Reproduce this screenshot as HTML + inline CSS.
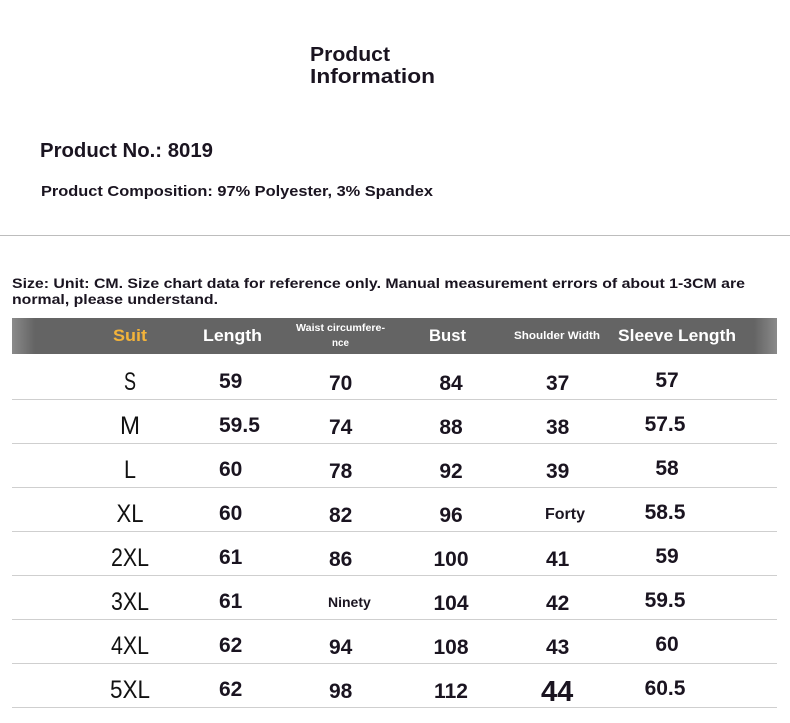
<!DOCTYPE html>
<html><head><meta charset="utf-8"><style>
html,body{margin:0;padding:0;background:#fff;width:790px;height:723px;overflow:hidden}
text{font-family:"Liberation Sans",sans-serif;font-weight:bold;fill:#1a1420}
.sz{font-weight:normal;fill:#111;font-size:25px}
.n{font-size:21px}
</style></head><body>
<svg width="790" height="723" viewBox="0 0 790 723" xmlns="http://www.w3.org/2000/svg">
<defs>
<linearGradient id="hg" x1="0" x2="1" y1="0" y2="0">
<stop offset="0" stop-color="#8a8a8a"/><stop offset="0.03" stop-color="#646464"/>
<stop offset="0.97" stop-color="#646464"/><stop offset="1" stop-color="#8a8a8a"/>
</linearGradient>
</defs>
<text x="310" y="61" font-size="20" textLength="80" lengthAdjust="spacingAndGlyphs">Product</text>
<text x="310" y="83" font-size="20" textLength="125" lengthAdjust="spacingAndGlyphs">Information</text>
<text x="40" y="157" font-size="20" textLength="173" lengthAdjust="spacingAndGlyphs">Product No.: 8019</text>
<text x="41" y="196" font-size="15" textLength="392" lengthAdjust="spacingAndGlyphs">Product Composition: 97% Polyester, 3% Spandex</text>
<rect x="0" y="235" width="790" height="1" fill="#bdbdbd"/>
<text x="12" y="288" font-size="14" textLength="733" lengthAdjust="spacingAndGlyphs">Size: Unit: CM. Size chart data for reference only. Manual measurement errors of about 1-3CM are</text>
<text x="12" y="304" font-size="14" textLength="206" lengthAdjust="spacingAndGlyphs">normal, please understand.</text>
<rect x="12" y="318" width="765" height="36" fill="url(#hg)"/>
<g style="fill:#fff">
<text x="113" y="341" font-size="17" textLength="34" lengthAdjust="spacingAndGlyphs" style="fill:#f3b33a">Suit</text>
<text x="203" y="341" font-size="17" textLength="59" lengthAdjust="spacingAndGlyphs" style="fill:#fff">Length</text>
<text x="296" y="331" font-size="10" textLength="89" lengthAdjust="spacingAndGlyphs" style="fill:#fff">Waist circumfere-</text>
<text x="332" y="346" font-size="10" textLength="17" lengthAdjust="spacingAndGlyphs" style="fill:#fff">nce</text>
<text x="429" y="341" font-size="17" textLength="37" lengthAdjust="spacingAndGlyphs" style="fill:#fff">Bust</text>
<text x="514" y="339" font-size="11" textLength="86" lengthAdjust="spacingAndGlyphs" style="fill:#fff">Shoulder Width</text>
<text x="618" y="341" font-size="17" textLength="118" lengthAdjust="spacingAndGlyphs" style="fill:#fff">Sleeve Length</text>
</g>
<g fill="#cfcfcf">
<rect x="12" y="399" width="765" height="1"/><rect x="12" y="443" width="765" height="1"/>
<rect x="12" y="487" width="765" height="1"/><rect x="12" y="531" width="765" height="1"/>
<rect x="12" y="575" width="765" height="1"/><rect x="12" y="619" width="765" height="1"/>
<rect x="12" y="663" width="765" height="1"/><rect x="12" y="707" width="765" height="1"/>
</g>
<!-- sizes -->
<g class="szg" text-anchor="middle">
<text class="sz" x="130" y="390" textLength="12" lengthAdjust="spacingAndGlyphs">S</text>
<text class="sz" x="130" y="434" textLength="20" lengthAdjust="spacingAndGlyphs">M</text>
<text class="sz" x="130" y="478" textLength="12" lengthAdjust="spacingAndGlyphs">L</text>
<text class="sz" x="130" y="522" textLength="27" lengthAdjust="spacingAndGlyphs">XL</text>
<text class="sz" x="130" y="566" textLength="38" lengthAdjust="spacingAndGlyphs">2XL</text>
<text class="sz" x="130" y="610" textLength="38" lengthAdjust="spacingAndGlyphs">3XL</text>
<text class="sz" x="130" y="654" textLength="38" lengthAdjust="spacingAndGlyphs">4XL</text>
<text class="sz" x="130" y="698" textLength="40" lengthAdjust="spacingAndGlyphs">5XL</text>
</g>
<!-- Length -->
<g class="n">
<text class="n" x="219" y="388">59</text>
<text class="n" x="219" y="432">59.5</text>
<text class="n" x="219" y="476">60</text>
<text class="n" x="219" y="520">60</text>
<text class="n" x="219" y="564">61</text>
<text class="n" x="219" y="608">61</text>
<text class="n" x="219" y="652">62</text>
<text class="n" x="219" y="696">62</text>
<!-- Waist -->
<text class="n" x="329" y="390">70</text>
<text class="n" x="329" y="434">74</text>
<text class="n" x="329" y="478">78</text>
<text class="n" x="329" y="522">82</text>
<text class="n" x="329" y="566">86</text>
<text x="328" y="607" font-size="14">Ninety</text>
<text class="n" x="329" y="654">94</text>
<text class="n" x="329" y="698">98</text>
<!-- Bust -->
<g text-anchor="middle">
<text class="n" x="451" y="390">84</text>
<text class="n" x="451" y="434">88</text>
<text class="n" x="451" y="478">92</text>
<text class="n" x="451" y="522">96</text>
<text class="n" x="451" y="566">100</text>
<text class="n" x="451" y="610">104</text>
<text class="n" x="451" y="654">108</text>
<text class="n" x="451" y="698">112</text>
</g>
<!-- Shoulder -->
<text class="n" x="546" y="390">37</text>
<text class="n" x="546" y="434">38</text>
<text class="n" x="546" y="478">39</text>
<text x="545" y="519" font-size="16">Forty</text>
<text class="n" x="546" y="566">41</text>
<text class="n" x="546" y="610">42</text>
<text class="n" x="546" y="654">43</text>
<text x="541" y="701" font-size="29">44</text>
<!-- Sleeve -->
<g text-anchor="middle">
<text class="n" x="667" y="387">57</text>
<text class="n" x="665" y="431">57.5</text>
<text class="n" x="667" y="475">58</text>
<text class="n" x="665" y="519">58.5</text>
<text class="n" x="667" y="563">59</text>
<text class="n" x="665" y="607">59.5</text>
<text class="n" x="667" y="651">60</text>
<text class="n" x="665" y="695">60.5</text>
</g>
</g>
</svg>
</body></html>
